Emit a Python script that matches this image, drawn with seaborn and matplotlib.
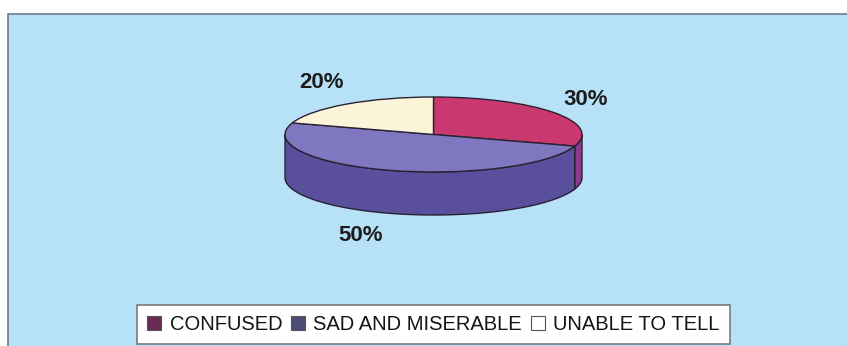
import numpy as np
import matplotlib
matplotlib.use("Agg")
import matplotlib.pyplot as plt
from matplotlib.patches import Polygon, Rectangle, Patch
import seaborn as sns

# Survey responses
categories = ["CONFUSED", "SAD AND MISERABLE", "UNABLE TO TELL"]
shares = [30, 50, 20]

top_colors = ["#C9386F", "#7F77BF", "#FBF4D8"]
side_colors = ["#8E3A8C", "#5A4F9C", "#D8CFA8"]
legend_colors = ["#6A2A52", "#4E4A78", "#FFFFFF"]

sns.set_theme(style="white")
plt.rcParams["font.family"] = ["Liberation Sans", "DejaVu Sans"]

W, H = 847, 346
fig = plt.figure(figsize=(W / 100, H / 100), dpi=100)
fig.patch.set_facecolor("white")

ax = fig.add_axes([0, 0, 1, 1])
ax.set_facecolor("none")

# Light-blue chart area with a thin grey frame on top and left
ax.add_patch(Rectangle((8 / W, 0), 1 - 8 / W, 1 - 14 / H, transform=ax.transAxes,
                       facecolor="#B7E1F7", edgecolor="none", zorder=0.5, clip_on=False))
ax.plot([8 / W, 1], [1 - 14 / H, 1 - 14 / H], transform=ax.transAxes,
        color="#6E7C86", lw=1.2, zorder=0.6, clip_on=False)
ax.plot([8 / W, 8 / W], [0, 1 - 14 / H], transform=ax.transAxes,
        color="#6E7C86", lw=1.2, zorder=0.6, clip_on=False)

# Tilted-disc geometry (pixel scale of one unit in x and y, centre, depth)
cx, cy = 433.5, 134.5
rx, ry = 148.5, 37.5
depth = 43 / ry

wedges, _ = ax.pie(shares, colors=top_colors, startangle=90, counterclock=False,
                   radius=1.0, center=(0, 0),
                   wedgeprops=dict(edgecolor="#2A2233", linewidth=1.0))
for w in wedges:
    w.set_zorder(3)

# Side wall of the disc: visible front part of each slice
total = float(sum(shares))
start = 90.0
for val, col in zip(shares, side_colors):
    end = start - 360.0 * val / total
    ts = np.linspace(np.radians(end), np.radians(start), 400)
    ts_wrapped = np.mod(ts + np.pi, 2 * np.pi) - np.pi
    vis = ts[ts_wrapped <= 0]
    if vis.size > 1:
        xt, yt = np.cos(vis), np.sin(vis)
        xs = np.concatenate([xt, xt[::-1]])
        ys = np.concatenate([yt, (yt - depth)[::-1]])
        ax.add_patch(Polygon(np.column_stack([xs, ys]), closed=True, facecolor=col,
                             edgecolor="#2A2233", linewidth=1.0, zorder=2))
    start = end

ax.set_aspect("auto")
ax.set_xlim((0 - cx) / rx, (W - cx) / rx)
ax.set_ylim((cy - H) / ry, cy / ry)
ax.axis("off")

# Percentage labels
label_px = [(586, 99), (361, 235), (321, 83)]
for val, (px, py) in zip(shares, label_px):
    ax.text((px - cx) / rx, (cy - py) / ry, f"{val}%", ha="center", va="center",
            fontsize=16, fontweight="bold", color="#1C1C1C", zorder=5)

handles = [Patch(facecolor=c, edgecolor="#555555", linewidth=0.8) for c in legend_colors]
leg = fig.legend(handles, categories, loc="lower center", ncol=3,
                 bbox_to_anchor=(433.5 / W, 2 / H),
                 fontsize=14.5, handlelength=0.7, handleheight=0.75, handletextpad=0.4,
                 columnspacing=0.45, borderaxespad=0, borderpad=0.5,
                 frameon=True, fancybox=False, framealpha=1)
leg.get_frame().set_facecolor("white")
leg.get_frame().set_edgecolor("#7A7A7A")
leg.get_frame().set_linewidth(1.2)
for t in leg.get_texts():
    t.set_color("#151515")

fig.savefig("out.png", dpi=100)
